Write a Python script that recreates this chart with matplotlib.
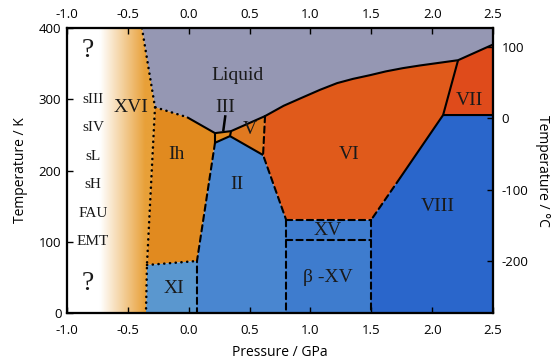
import numpy as np
import matplotlib
matplotlib.use("Agg")
import matplotlib.pyplot as plt
from matplotlib.patches import Polygon
from matplotlib.colors import to_rgb

# --- phase boundary points (pressure GPa, temperature K) ---
top_xvi = (-0.384, 400.0)
tp_xvi_ih_l = (-0.277, 289.0)
l_ih_dot_end = (-0.014, 275.0)
tp_ih_iii_l = (0.216, 252.6)
tp_ih_ii_iii = (0.216, 239.0)
tp_ii_iii_v = (0.339, 248.4)
tp_iii_v_l = (0.348, 255.4)
tp_v_vi_l = (0.627, 276.5)
tp_ii_v_vi = (0.611, 221.8)
tp_xvi_ih_xi = (-0.343, 67.4)
bot_xvi = (-0.351, 0.0)
tp_ih_xi_ii = (0.068, 73.0)
bot_xi = (0.068, 0.0)
xv_p = [0.8, 1.5]
xv_t = [131.0, 103.0]
vi_viii_break = (1.736, 189.5)
tp_vi_vii_viii = (2.09, 278.0)
tp_vi_vii_l = (2.213, 355.0)
l_vii_edge = (2.5, 377.0)

# melting curve of ice VI
melt_vi_p = [0.627, 0.78, 0.939, 1.08, 1.219, 1.35, 1.49, 1.62, 1.761, 1.9, 2.04, 2.213]
melt_vi_t = [276.5, 291.0, 303.0, 313.5, 322.8, 328.8, 334.0, 339.3, 343.9, 347.6, 350.9, 355.0]

# region labels
phase_names = ["Liquid", "XVI", "III", "V", "Ih", "VI", "VII", "II", "VIII", "XV", "\u03b2 -XV", "XI"]
phase_p = [0.397, -0.47, 0.298, 0.504, -0.104, 1.317, 2.303, 0.397, 2.05, 1.145, 1.145, -0.12]
phase_t = [334, 289, 288, 257, 222, 222, 299, 180, 149, 116.5, 50.5, 35]

hydrate_names = ["sIII", "sIV", "sL", "sH", "FAU", "EMT"]
hydrate_t = [300, 261, 220, 181, 140, 100]

xticks = [-1.0, -0.5, 0.0, 0.5, 1.0, 1.5, 2.0, 2.5]
yticks = [0, 100, 200, 300, 400]
cticks = [-200, -100, 0, 100]

serif = "Liberation Serif"
sans = "Open Sans"

fig = plt.figure(figsize=(5.55, 3.61), dpi=100)
ax = fig.add_axes([0.1207, 0.133, 0.7676, 0.789])
ax.set_xlim(-1.0, 2.5)
ax.set_ylim(0, 400)

melt = list(zip(melt_vi_p, melt_vi_t))

regions = {
    "liquid": ([top_xvi, tp_xvi_ih_l, l_ih_dot_end, tp_ih_iii_l, tp_iii_v_l] + melt
               + [l_vii_edge, (2.5, 400), (-0.384, 400)], "#9597b3"),
    "ih": ([tp_xvi_ih_l, l_ih_dot_end, tp_ih_iii_l, tp_ih_ii_iii, tp_ih_xi_ii, tp_xvi_ih_xi], "#e18a1f"),
    "xi": ([tp_xvi_ih_xi, tp_ih_xi_ii, bot_xi, bot_xvi], "#5a97cf"),
    "iii": ([tp_ih_iii_l, tp_iii_v_l, tp_ii_iii_v, tp_ih_ii_iii], "#e38b1f"),
    "v": ([tp_iii_v_l, tp_v_vi_l, tp_ii_v_vi, tp_ii_iii_v], "#e07920"),
    "ii": ([tp_ih_ii_iii, tp_ii_iii_v, tp_ii_v_vi, (xv_p[0], xv_t[0]), (xv_p[0], 0), bot_xi,
            tp_ih_xi_ii], "#4986d0"),
    "vi": (melt + [tp_vi_vii_viii, (xv_p[1], xv_t[0]), (xv_p[0], xv_t[0]), tp_ii_v_vi], "#e05a1b"),
    "vii": ([tp_vi_vii_l, l_vii_edge, (2.5, tp_vi_vii_viii[1]), tp_vi_vii_viii], "#df4b1b"),
    "viii": ([tp_vi_vii_viii, (2.5, tp_vi_vii_viii[1]), (2.5, 0), (xv_p[1], 0), (xv_p[1], xv_t[0])],
             "#2a66cb"),
    "xv": ([(xv_p[0], xv_t[0]), (xv_p[1], xv_t[0]), (xv_p[1], 0), (xv_p[0], 0)], "#3e7cce"),
}
for pts, col in regions.values():
    ax.add_patch(Polygon(pts, closed=True, facecolor=col, edgecolor="none", zorder=1))

# XVI / unknown region: white to orange gradient
xvi_poly = Polygon([(-1.0, 400), top_xvi, tp_xvi_ih_l, tp_xvi_ih_xi, bot_xvi, (-1.0, 0)],
                   closed=True, facecolor="none", edgecolor="none", transform=ax.transData)
ax.add_patch(xvi_poly)
gx = np.linspace(-1.0, -0.25, 300)
frac = np.clip((gx + 0.73) / (0.73 - 0.36), 0, 1)
c0 = np.array([1.0, 1.0, 1.0])
c1 = np.array(to_rgb("#e8a038"))
img = c0[None, :] * (1 - frac[:, None]) + c1[None, :] * frac[:, None]
im = ax.imshow(img[None, :, :], extent=[-1.0, -0.25, 0, 400], aspect="auto", zorder=1,
               interpolation="bilinear")
im.set_clip_path(xvi_poly)


def seg(pts, style, lw=1.5):
    p, t = zip(*pts)
    ax.plot(p, t, color="black", lw=lw, linestyle=style, zorder=3,
            solid_capstyle="butt", solid_joinstyle="round", dash_capstyle="round")


dot = (0, (0.1, 2.2))
dash = (0, (3, 2))
# dotted (metastable) lines
seg([top_xvi, tp_xvi_ih_l, l_ih_dot_end], dot, lw=1.8)
seg([tp_xvi_ih_l, tp_xvi_ih_xi, bot_xvi], dot, lw=1.8)
seg([tp_xvi_ih_xi, tp_ih_xi_ii], dot, lw=1.8)
# solid lines
seg([l_ih_dot_end, tp_ih_iii_l, tp_iii_v_l] + melt + [l_vii_edge], "-")
seg([tp_ih_iii_l, tp_ih_ii_iii, tp_ii_iii_v, tp_iii_v_l], "-")
seg([tp_ii_iii_v, tp_ii_v_vi], "-")
seg([tp_vi_vii_l, tp_vi_vii_viii, (2.5, tp_vi_vii_viii[1])], "-")
seg([tp_vi_vii_viii, vi_viii_break], "-")
# dashed lines
seg([vi_viii_break, (xv_p[1], xv_t[0])], dash)
seg([tp_ih_ii_iii, tp_ih_xi_ii, bot_xi], dash)
seg([tp_v_vi_l, tp_ii_v_vi, (xv_p[0], xv_t[0])], dash)
seg([(xv_p[0], xv_t[0]), (xv_p[1], xv_t[0])], dash)
seg([(xv_p[0], xv_t[1]), (xv_p[1], xv_t[1])], dash)
seg([(xv_p[0], xv_t[0]), (xv_p[0], 0)], dash)
seg([(xv_p[1], xv_t[0]), (xv_p[1], 0)], dash)

# pointer from III label into the tiny III region
ax.plot([0.3, 0.285], [276, 257], color="black", lw=1.8, zorder=4)

for name, p, t in zip(phase_names, phase_p, phase_t):
    ax.text(p, t, name, ha="center", va="center", fontsize=14, family=serif,
            color="#1a1a1a", zorder=5)
for name, t in zip(hydrate_names, hydrate_t):
    ax.text(-0.786, t, name, ha="center", va="center", fontsize=11, family=serif,
            color="#1a1a1a", zorder=5)
for t in [369, 42]:
    ax.text(-0.827, t, "?", ha="center", va="center", fontsize=20, family=serif,
            color="#1a1a1a", zorder=5)

ax.set_xticks(xticks)
ax.set_xticklabels(["%.1f" % v for v in xticks], family=sans)
ax.set_yticks(yticks)
ax.set_yticklabels([str(v) for v in yticks], family=sans)
ax.tick_params(direction="in", length=4, width=1, labelsize=9.5)
ax.tick_params(axis="x", pad=8)
ax.tick_params(axis="y", pad=4)
ax.set_xlabel("Pressure / GPa", family=sans, fontsize=10, labelpad=6)
ax.set_ylabel("Temperature / K", family=sans, fontsize=10, labelpad=8)

axt = ax.twiny()
axt.set_xlim(ax.get_xlim())
axt.set_xticks(xticks)
axt.set_xticklabels(["%.1f" % v for v in xticks], family=sans)
axt.tick_params(direction="in", length=4, width=1, labelsize=9.5, pad=5)

axr = ax.twinx()
axr.set_ylim(0 - 273.15, 400 - 273.15)
axr.set_yticks(cticks)
axr.set_yticklabels([str(v) for v in cticks], family=sans)
axr.tick_params(direction="in", length=4, width=1, labelsize=9.5, pad=6)
axr.set_ylabel("Temperature / \u00b0C", family=sans, fontsize=10, rotation=270, labelpad=16)

for a in (ax, axt, axr):
    for s in a.spines.values():
        s.set_linewidth(1.5)
        s.set_zorder(6)

fig.savefig("out.png", dpi=100)
